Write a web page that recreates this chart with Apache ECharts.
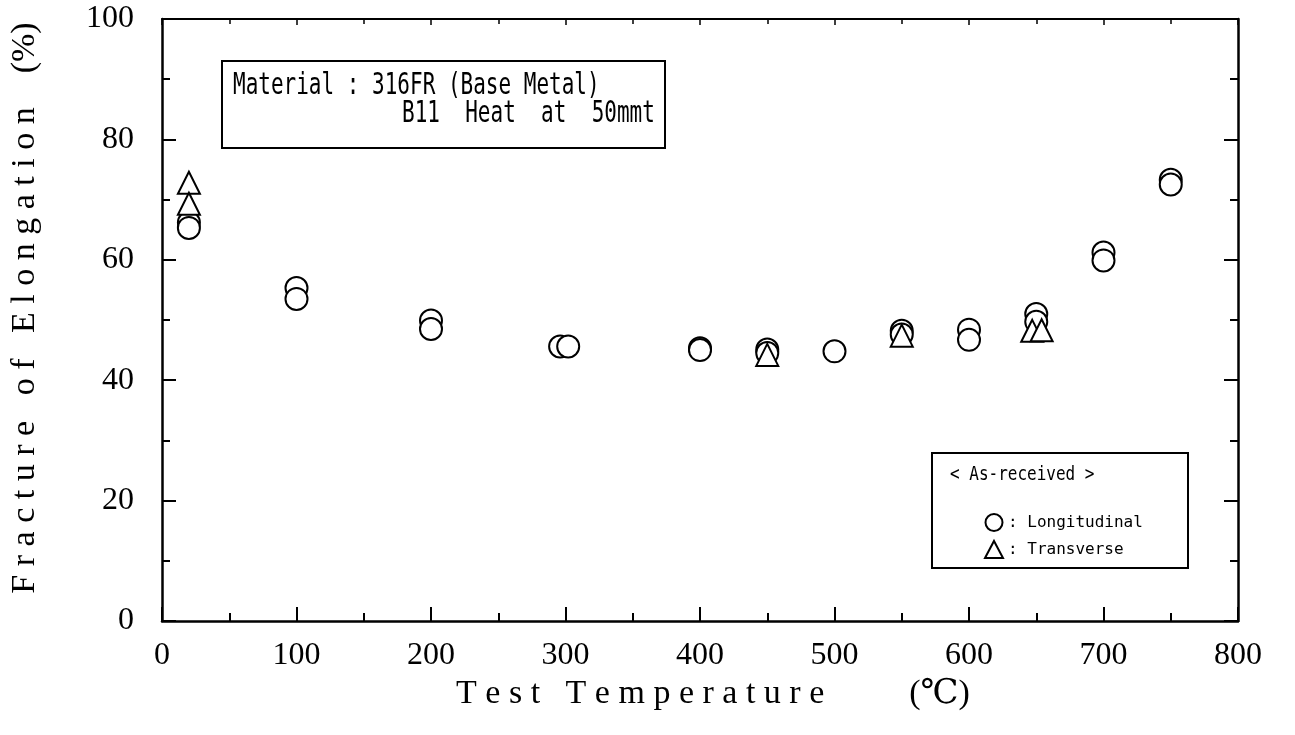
<!DOCTYPE html>
<html>
<head>
<meta charset="utf-8">
<title>Fracture of Elongation</title>
<script src="https://cdn.jsdelivr.net/npm/echarts@6/dist/echarts.min.js"></script>
</head>
<body style="margin:0">
<div id="main" style="width:1295px;height:735px;"></div>
<script type="text/javascript">
// values: test temperature (C) / elongation (%)
var longTemp = [20, 20, 100, 100, 200, 200, 296, 302, 400, 400, 450, 450, 500, 550, 550, 600, 600, 650, 650, 700, 700, 750, 750];
var longElong = [66.2, 65.3, 55.3, 53.5, 49.9, 48.5, 45.6, 45.6, 45.3, 45.0, 45.1, 44.5, 44.8, 48.2, 47.6, 48.4, 46.7, 51.0, 49.7, 61.2, 59.9, 73.3, 72.5];
var transTemp = [20, 20, 450, 550, 647, 654];
var transElong = [72.8, 69.3, 44.2, 47.4, 48.2, 48.3];
var seriesNames = ['Longitudinal', 'Transverse'];
var boxLines = ['Material : 316FR (Base Metal)', 'B11  Heat  at  50mmt'];
var legendTitle = '< As-received >';

function pairs(xs, ys) {
    var out = [];
    for (var i = 0; i < xs.length; i++) out.push([xs[i], ys[i]]);
    return out;
}
// spread letters like the old plotter font
function spaced(s) {
    return s.split('').join(' ');
}
function pad(n) {
    return new Array(n + 1).join(' ');
}

var myChart = echarts.init(document.getElementById('main'));
var serif = '"Liberation Serif", "DejaVu Serif", serif';
var mono = '"DejaVu Sans Mono", monospace';

var tickStyle = { color: '#000', width: 2 };
var markStyle = { color: '#000', borderColor: '#000', borderWidth: 2.2, opacity: 1 };

var option = {
    backgroundColor: '#fff',
    animation: false,
    grid: { left: 162, right: 57, top: 19, bottom: 114 },
    xAxis: [{
        type: 'value', min: 0, max: 800, interval: 100,
        name: spaced('Test Temperature') + pad(10) + '(℃)',
        nameLocation: 'middle', nameGap: 50,
        nameTextStyle: { fontFamily: serif, fontSize: 34, color: '#000', padding: [0, 0, 0, 26] },
        axisLine: { show: true, onZero: false, lineStyle: { color: '#000', width: 2.5 } },
        axisTick: { inside: true, length: 14, lineStyle: tickStyle },
        minorTick: { show: true, splitNumber: 2, length: 8, lineStyle: tickStyle },
        axisLabel: { fontFamily: serif, fontSize: 32, color: '#000', margin: 19 },
        splitLine: { show: false }
    }, {
        type: 'value', min: 0, max: 800, interval: 100, position: 'top',
        axisLine: { show: true, onZero: false, lineStyle: { color: '#000', width: 2 } },
        axisTick: { inside: true, length: 6, lineStyle: { color: '#000', width: 1.5 } },
        minorTick: { show: true, splitNumber: 2, length: 5, lineStyle: { color: '#000', width: 1.5 } },
        axisLabel: { show: false },
        splitLine: { show: false }
    }],
    yAxis: [{
        type: 'value', min: 0, max: 100, interval: 20,
        name: spaced('Fracture of Elongation') + pad(4) + '(%)',
        nameLocation: 'middle', nameRotate: 90, nameGap: 120,
        nameTextStyle: { fontFamily: serif, fontSize: 34, color: '#000', padding: [0, 0, 0, 24] },
        axisLine: { show: true, onZero: false, lineStyle: { color: '#000', width: 2.5 } },
        axisTick: { inside: true, length: 14, lineStyle: tickStyle },
        minorTick: { show: true, splitNumber: 2, length: 8, lineStyle: tickStyle },
        axisLabel: { fontFamily: serif, fontSize: 32, color: '#000', margin: 28 },
        splitLine: { show: false }
    }, {
        type: 'value', min: 0, max: 100, interval: 20, position: 'right',
        axisLine: { show: true, onZero: false, lineStyle: { color: '#000', width: 2.5 } },
        axisTick: { inside: true, length: 14, lineStyle: tickStyle },
        minorTick: { show: true, splitNumber: 2, length: 8, lineStyle: tickStyle },
        axisLabel: { show: false },
        splitLine: { show: false }
    }],
    legend: {
        orient: 'vertical', left: 979, top: 508,
        itemWidth: 18, itemHeight: 17, itemGap: 8,
        data: [
            { name: seriesNames[0], icon: 'emptyCircle' },
            { name: seriesNames[1], icon: 'emptyTriangle' }
        ],
        formatter: function (name) { return ': ' + name; },
        textStyle: { fontFamily: mono, fontSize: 16, color: '#000' },
        itemStyle: { borderWidth: 1.8, opacity: 1 }
    },
    graphic: [
        { type: 'rect', shape: { x: 222, y: 61, width: 443, height: 87 },
          style: { fill: '#fff', stroke: '#000', lineWidth: 2 } },
        { type: 'text', x: 233, y: 86, scaleY: 1.4,
          style: { text: boxLines[0], font: '21px ' + mono, fill: '#000', verticalAlign: 'middle' } },
        { type: 'text', x: 402, y: 114, scaleY: 1.4,
          style: { text: boxLines[1], font: '21px ' + mono, fill: '#000', verticalAlign: 'middle' } },
        { type: 'rect', shape: { x: 932, y: 453, width: 256, height: 115 },
          style: { fill: '#fff', stroke: '#000', lineWidth: 2 } },
        { type: 'text', x: 950, y: 475, scaleY: 1.2,
          style: { text: legendTitle, font: '16px ' + mono, fill: '#000', verticalAlign: 'middle' } }
    ],
    series: [{
        name: seriesNames[0], type: 'scatter',
        symbol: 'emptyCircle', symbolSize: 22,
        itemStyle: markStyle,
        data: pairs(longTemp, longElong), z: 3
    }, {
        name: seriesNames[1], type: 'scatter',
        symbol: 'emptyTriangle', symbolSize: 22,
        itemStyle: markStyle,
        data: pairs(transTemp, transElong), z: 4
    }]
};

myChart.setOption(option);
</script>
</body>
</html>
